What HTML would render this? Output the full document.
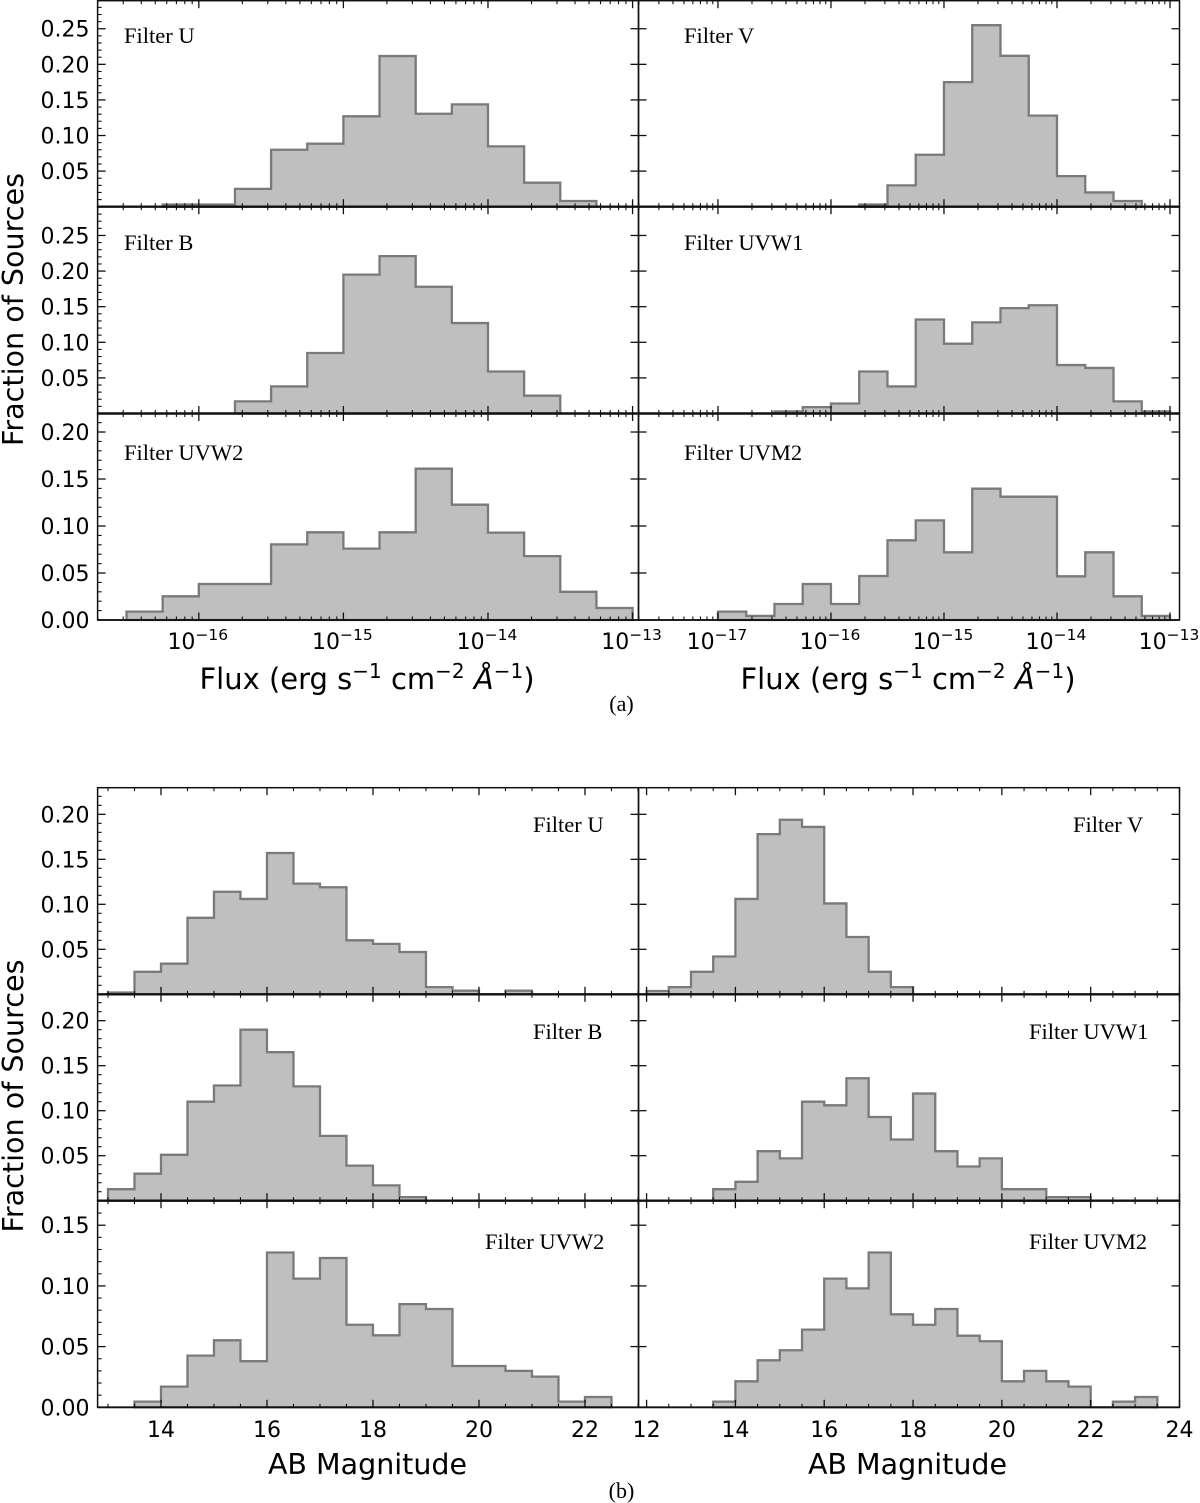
<!DOCTYPE html>
<html lang="en">
<head>
<meta charset="utf-8">
<title>Fraction of sources histograms</title>
<style>
html,body{margin:0;padding:0;background:#fff;}
svg{display:block;}
text{fill:#000;}
.sans{font-family:"DejaVu Sans","Liberation Sans",sans-serif;}
.serif{font-family:"Liberation Serif",serif;}
</style>
</head>
<body>
<svg id="chart" xmlns="http://www.w3.org/2000/svg" width="1200" height="1503" viewBox="0 0 1200 1503"></svg>
<script>
// Flux histograms: log10 flux bin start and fraction per 0.25 dex bin
const fluxBinWidth = 0.25;
const fluxUStart = -16.25;
const fluxU = [0.003,0.003,0.025,0.080,0.0885,0.127,0.2116,0.1306,0.1438,0.0848,0.0337,0.008];
const fluxVStart = -15.75;
const fluxV = [0.003,0.03,0.073,0.175,0.255,0.212,0.128,0.043,0.02,0.008];
const fluxBStart = -15.75;
const fluxB = [0.017,0.038,0.085,0.195,0.221,0.178,0.127,0.059,0.025];
const fluxUVW1Start = -16.5;
const fluxUVW1 = [0.003,0.009,0.014,0.059,0.038,0.132,0.098,0.128,0.148,0.152,0.068,0.064,0.017,0.003];
const fluxUVW2Start = -16.5;
const fluxUVW2 = [0.0089,0.0252,0.0383,0.0383,0.0805,0.0933,0.0759,0.0933,0.161,0.1227,0.093,0.068,0.03,0.0128];
const fluxUVM2Start = -17;
const fluxUVM2 = [0.0089,0.0043,0.017,0.0383,0.017,0.0468,0.0848,0.106,0.072,0.1397,0.1312,0.1312,0.0465,0.072,0.0252,0.0043];

// Magnitude histograms: AB magnitude bin start and fraction per 0.5 mag bin
const magBinWidth = 0.5;
const magUStart = 13;
const magU = [0.002,0.025,0.034,0.085,0.114,0.106,0.157,0.123,0.119,0.06,0.056,0.047,0.008,0.004,0,0.004];
const magVStart = 12;
const magV = [0.0037,0.008,0.025,0.042,0.106,0.178,0.194,0.186,0.101,0.0637,0.025,0.008];
const magBStart = 13;
const magB = [0.0128,0.03,0.051,0.11,0.128,0.19,0.165,0.127,0.072,0.039,0.017,0.004];
const magUVW1Start = 13.5;
const magUVW1 = [0.0128,0.021,0.055,0.047,0.11,0.106,0.136,0.093,0.068,0.119,0.055,0.038,0.047,0.0128,0.0128,0.004,0.004];
const magUVW2Start = 13.5;
const magUVW2 = [0.0047,0.017,0.0426,0.0552,0.038,0.1275,0.106,0.123,0.068,0.0593,0.085,0.081,0.034,0.034,0.03,0.0253,0.0047,0.0085];
const magUVM2Start = 13.5;
const magUVM2 = [0.0047,0.0214,0.0387,0.047,0.064,0.106,0.098,0.1275,0.0766,0.068,0.081,0.059,0.0544,0.0214,0.03,0.0214,0.017,0,0.0047,0.0085];

// Tick labels
const yTicks250 = [0.05,0.10,0.15,0.20,0.25];
const yTicks200Zero = [0.00,0.05,0.10,0.15,0.20];
const yTicks200 = [0.05,0.10,0.15,0.20];
const yTicks150Zero = [0.00,0.05,0.10,0.15];
const fluxTicksLeft = [-16,-15,-14,-13];
const fluxTicksRight = [-17,-16,-15,-14,-13];
const magTicksLeft = [14,16,18,20,22];
const magTicksRight = [12,14,16,18,20,22,24];

const NS = 'http://www.w3.org/2000/svg';
const svg = document.getElementById('chart');

function mk(tag, attrs, parent) {
  const el = document.createElementNS(NS, tag);
  for (const k in attrs) el.setAttribute(k, attrs[k]);
  (parent || svg).appendChild(el);
  return el;
}
function line(parent, x1, y1, x2, y2, w) {
  return mk('line', {x1:x1, y1:y1, x2:x2, y2:y2, stroke:'#111', 'stroke-width':w}, parent);
}
function tickLabel(parent, x, y, txt, anchor) {
  const t = mk('text', {x:x, y:y, 'font-size':'22', 'text-anchor':anchor, class:'sans'}, parent);
  t.textContent = txt;
  return t;
}

function drawPanel(p) {
  const g = mk('g', {});
  
  

  const sx = v => p.x0 + (v - p.xMin) / (p.xMax - p.xMin) * (p.x1 - p.x0);
  const sy = v => p.y1 - (v / p.yMax) * (p.y1 - p.y0);

  // histogram
  let d = 'M' + sx(p.start).toFixed(2) + ' ' + sy(0).toFixed(2);
  p.values.forEach((v, i) => {
    const a = sx(p.start + i * p.bin), b = sx(p.start + (i + 1) * p.bin);
    d += 'L' + a.toFixed(2) + ' ' + sy(v).toFixed(2) + 'L' + b.toFixed(2) + ' ' + sy(v).toFixed(2);
  });
  d += 'L' + sx(p.start + p.values.length * p.bin).toFixed(2) + ' ' + sy(0).toFixed(2) + 'Z';
  const hist = mk('path', {d:d, fill:'#bfbfbf', stroke:'#7a7a7a', 'stroke-width':'2.3', 'stroke-linejoin':'miter'}, g);
  
  

  // y ticks: major and minor
  const ticks = mk('g', {}, g);
  
  
  for (let i = 0; i <= Math.floor(p.yMax * 100 + 1e-6); i++) {
    const v = i / 100, y = sy(v), major = i % 5 === 0;
    if (i === 0) continue;
    if (major) {
      line(ticks, p.x0, y, p.x0 + 8, y, 1.3);
      line(ticks, p.x1 - 8, y, p.x1, y, 1.3);
    } else if (p.leftMinor) {
      line(ticks, p.x0, y, p.x0 + 4, y, 1.1);
    }
  }
  // x ticks
  const xt = (v, len, w) => {
    const x = sx(v);
    if (x < p.x0 || x > p.x1) return;
    line(ticks, x, p.y0, x, p.y0 + len, w);
    line(ticks, x, p.y1 - len, x, p.y1, w);
  };
  if (p.log) {
    for (let e = Math.floor(p.xMin); e < Math.ceil(p.xMax); e++) {
      xt(e, 7.5, 1.3);
      for (let m = 2; m < 10; m++) xt(e + Math.log10(m), 3.5, 1.1);
    }
  } else {
    for (let v = Math.ceil(p.xMin * 2) / 2; v <= p.xMax + 0.01; v += 0.5) {
      if (Math.abs(v / 2 - Math.round(v / 2)) < 1e-6) xt(v, 7.5, 1.3);
      else xt(v, 3.5, 1.1);
    }
  }

  // frame
  const frame = mk('rect', {x:p.x0, y:p.y0, width:p.x1 - p.x0, height:p.y1 - p.y0, fill:'none', stroke:'#111', 'stroke-width':'1.5'}, g);
  
  
  const baseWidth = p.xLabels ? 1.8 : 2.4;
  const base = line(g, p.x0, p.y1, p.x1, p.y1, baseWidth);
  
  

  // y tick labels
  if (p.yLabels) {
    const yl = mk('g', {}, g);
    
    
    p.yLabels.forEach(v => tickLabel(yl, 89.5, sy(v) + 8, v.toFixed(2), 'end'));
  }

  // x tick labels
  if (p.xLabels) {
    const xl = mk('g', {}, g);
    
    
    p.xLabels.forEach(v => {
      if (p.log) {
        const t = mk('text', {x:sx(v) - 1, y:p.y1 + 29, 'font-size':'22', 'text-anchor':'middle', class:'sans'}, xl);
        const a = mk('tspan', {}, t);
        a.textContent = '10';
        const b = mk('tspan', {dy:'-9', 'font-size':'15.5'}, t);
        b.textContent = '\u2212' + Math.abs(v);
      } else {
        tickLabel(xl, sx(v), p.y1 + 29.5, String(v), 'middle');
      }
    });
  }

  // filter text
  const ft = mk('text', {x:p.labelX, y:p.labelY, 'font-size':'22.5', class:'serif'}, g);
  ft.textContent = p.label;
  
  
}

const colL = [97.6, 638.5], colR = [638.5, 1179.5];
const rowA = [0.7, 206.7, 413.5, 620];
const rowB = [787.7, 994.3, 1200.7, 1407.3];
const fluxL = [-16.70, -12.959], fluxR = [-17.703, -12.916];
const magL = [12.804, 23.01], magR = [11.818, 24.0];

function panel(name, col, row, r, xDom, log, yMax, yLabels, xLabels, values, start, label, lx, ly) {
  drawPanel({
    name:name, x0:col[0], x1:col[1], y0:row[r], y1:row[r + 1],
    xMin:xDom[0], xMax:xDom[1], log:log, yMax:yMax, yLabels:yLabels, xLabels:xLabels,
    values:values, start:start, bin:log ? fluxBinWidth : magBinWidth,
    label:label, labelX:lx, labelY:ly, leftMinor:col === colL
  });
}

panel('flux-panel-u', colL, rowA, 0, fluxL, true, 0.2894, yTicks250, null, fluxU, fluxUStart, 'Filter U', 124, 43);
panel('flux-panel-v', colR, rowA, 0, fluxR, true, 0.2894, null, null, fluxV, fluxVStart, 'Filter V', 684, 43);
panel('flux-panel-b', colL, rowA, 1, fluxL, true, 0.2904, yTicks250, null, fluxB, fluxBStart, 'Filter B', 124, 250);
panel('flux-panel-uvw1', colR, rowA, 1, fluxR, true, 0.2904, null, null, fluxUVW1, fluxUVW1Start, 'Filter UVW1', 684, 250);
panel('flux-panel-uvw2', colL, rowA, 2, fluxL, true, 0.2197, yTicks200Zero, fluxTicksLeft, fluxUVW2, fluxUVW2Start, 'Filter UVW2', 124, 460);
panel('flux-panel-uvm2', colR, rowA, 2, fluxR, true, 0.2197, null, fluxTicksRight, fluxUVM2, fluxUVM2Start, 'Filter UVM2', 684, 460);

panel('mag-panel-u', colL, rowB, 0, magL, false, 0.2296, yTicks200, null, magU, magUStart, 'Filter U', 533, 832);
panel('mag-panel-v', colR, rowB, 0, magR, false, 0.2296, null, null, magV, magVStart, 'Filter V', 1073, 832);
panel('mag-panel-b', colL, rowB, 1, magL, false, 0.2293, yTicks200, null, magB, magBStart, 'Filter B', 533, 1039);
panel('mag-panel-uvw1', colR, rowB, 1, magR, false, 0.2293, null, null, magUVW1, magUVW1Start, 'Filter UVW1', 1029, 1039);
panel('mag-panel-uvw2', colL, rowB, 2, magL, false, 0.1702, yTicks150Zero, magTicksLeft, magUVW2, magUVW2Start, 'Filter UVW2', 485, 1249);
panel('mag-panel-uvm2', colR, rowB, 2, magR, false, 0.1702, null, magTicksRight, magUVM2, magUVM2Start, 'Filter UVM2', 1029, 1249);

// Titles and captions
function yTitle(name, cy) {
  const t = mk('text', {transform:'translate(23 ' + cy + ') rotate(-90)', 'font-size':'28.6', 'text-anchor':'middle', class:'sans'});
  t.textContent = 'Fraction of Sources';
  
  
}
yTitle('flux-y-axis-title', 309.5);
yTitle('mag-y-axis-title', 1096);

function fluxTitle(name, cx) {
  const t = mk('text', {x:cx, y:689, 'font-size':'29', 'text-anchor':'middle', class:'sans'});
  
  
  const parts = [
    ['Flux (erg s', 0, null, null],
    ['\u22121', -11, '20', null],
    [' cm', 11, null, null],
    ['\u22122', -11, '20', null],
    [' ', 11, null, null],
    ['\u00C5', 0, null, 'italic'],
    ['\u22121', -11, '20', null],
    [')', 11, null, null]
  ];
  parts.forEach(pt => {
    const s = mk('tspan', {dy:pt[1]}, t);
    if (pt[2]) s.setAttribute('font-size', pt[2]);
    if (pt[3]) s.setAttribute('font-style', pt[3]);
    s.textContent = pt[0];
  });
}
fluxTitle('flux-x-axis-title-left', 367);
fluxTitle('flux-x-axis-title-right', 908);

function magTitle(name, cx) {
  const t = mk('text', {x:cx, y:1474, 'font-size':'28.5', 'text-anchor':'middle', class:'sans'});
  t.textContent = 'AB Magnitude';
  
  
}
magTitle('mag-x-axis-title-left', 367.5);
magTitle('mag-x-axis-title-right', 907.5);

function caption(name, txt, y) {
  const t = mk('text', {x:621.5, y:y, 'font-size':'22', 'text-anchor':'middle', class:'serif'});
  t.textContent = txt;
  
  
}
caption('caption-a', '(a)', 711);
caption('caption-b', '(b)', 1498);
</script>
</body>
</html>
